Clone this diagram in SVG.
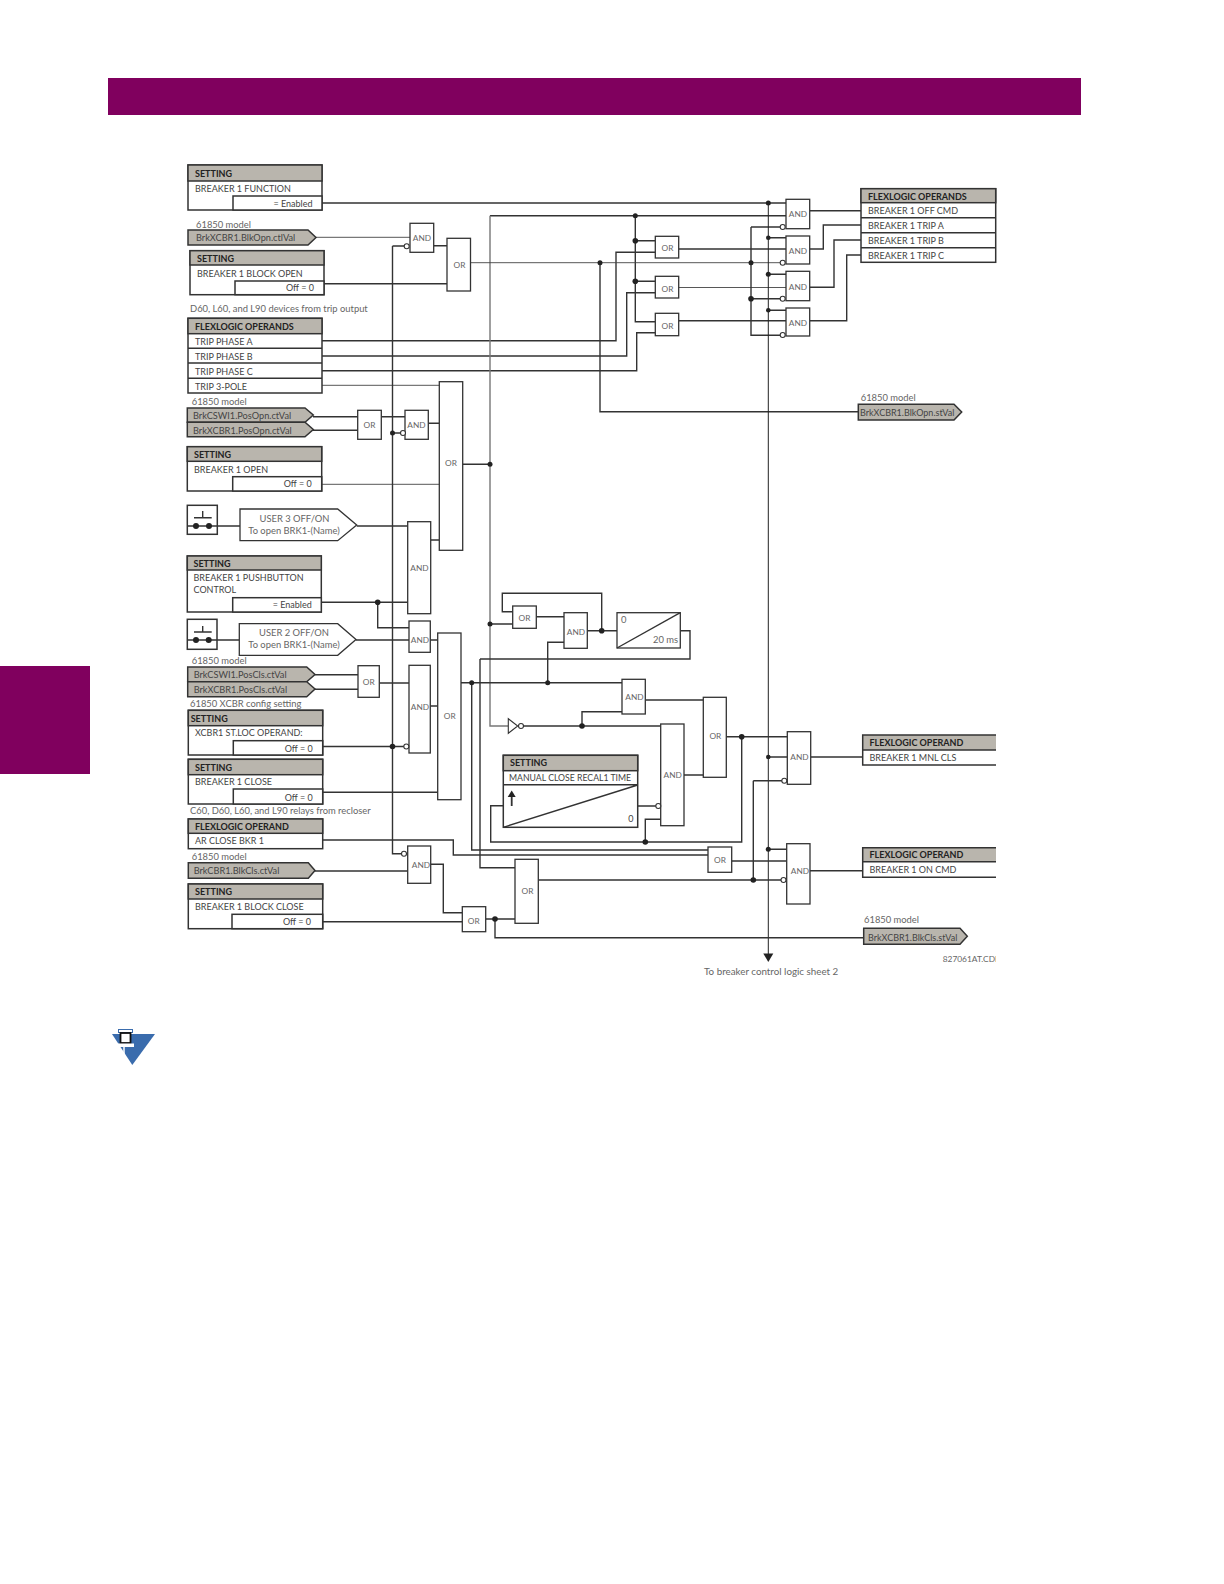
<svg xmlns="http://www.w3.org/2000/svg" width="1224" height="1584" viewBox="0 0 1224 1584">
<style>
text{font-family:"Lato","Open Sans","Liberation Sans",sans-serif;font-size:9px;fill:#444}
.h{font-weight:700;fill:#222;font-size:9px}
.g{font-size:8.300px;fill:#666;text-anchor:middle}
.n{fill:#666;font-size:9.400px}
.r{text-anchor:end}
.c{text-anchor:middle}
.b{fill:#fff;stroke:#333;stroke-width:1.500}
.bg{fill:#fff;stroke:#333;stroke-width:1.300}
.hd{fill:#b9b5ad;stroke:#333;stroke-width:1.500}
.w{fill:none;stroke:#333;stroke-width:1.400}
.t{fill:none;stroke:#444;stroke-width:.9}
.y{fill:none;stroke:#777;stroke-width:1.400}
.d{fill:#222;stroke:none}
.o{fill:#fff;stroke:#333;stroke-width:1.100}
</style>
<defs><clipPath id="cdr"><rect x="930" y="940" width="66" height="30"/></clipPath></defs>
<rect id="title-band" x="108" y="78" width="973" height="37" fill="#80005e"/>
<rect id="side-tab" x="0" y="666" width="90" height="108" fill="#80005e"/>
<g id="connectors">
<path class="w" d="M322 203H786M490 215.700H786M635.300 215.700V321.700H655M635.300 240.700H655M635.300 281.300H655M322 340.700H616V252.300H655M322 356H626.700V292.700H655M322 370.700H636.700V332.700H655"/>
<path class="y" d="M490 215.700V726H508"/>
<path class="t" d="M316 237.300H410M470 262.700H780M322 385.300H439M322 484.300H439M678.700 287.500H786"/>
<path class="w" d="M392.500 246V853.700H402M392.500 246H404M392.500 433H401M392.500 746.500H404M322 746.500H392.500"/>
<path class="w" d="M434 245.700H447M324 283.700H447M600 262.700V411.700H858M678.700 249H786M678.700 320.700H786"/>
<path class="w" d="M751 227V335.300H780M751 227H780"/>
<path class="t" style="stroke:#222;stroke-width:1" d="M768.300 203V955"/>
<path class="w" d="M751 298.700H780M768.300 237.700H786M768.300 274.300H786M768.300 310.300H786"/>
<path class="w" d="M809.700 210.700H861M809.700 249H823.300V225H861M809.700 287.300H834V240H861M809.700 320.700H846.700V255H861"/>
<path class="w" d="M313 416.700H358M313 430.300H358M381.300 416.700H405M428.300 423.300H439.300M462.700 464.300H490"/>
<path class="w" d="M187.300 526H240M356.700 526H407.700M430.700 540H439.300M321.300 602.300H407.700M377.700 602.300V627.700H409M187.300 640H239.300M356 640H409M430.300 640H437.700"/>
<path class="w" d="M315 674.700H358M315 689.300H358M379.300 683H409M430.300 706H437.700M461 682.700H622M322 792.300H437.700"/>
<path class="w" d="M471.700 682.700V850H708M480 659V867.700H515M480 659H690V630.700H680.300M322 840H453.300V855H708"/>
<path class="w" d="M536.300 616.700H564M490 624H512.700M512.700 611.700H502.300V593.300H601.700V630.700M587.300 630.700H617M547.700 682.700V642.300H564"/>
<path class="w" d="M582 726V711.700H622M521 726H660.700M645.300 700H703.300M684 775H703.300M726.300 736.700H787.300M741.700 736.700V842H490.700V805.700H503.300M645.300 842V819.300H660.700M637.700 806H656"/>
<path class="w" d="M768.300 757H787.300M753.300 780.700H782M753.300 780.700V880M810.700 757H862.700M731.700 861H786.700M538.300 880H781M768.300 849.300H786.700M810 870.700H862.700"/>
<path class="w" d="M315 871H407.700M430.700 864.300H443.300V912.700H462.300M322 921.800H462.300M485.700 919H515M495 919V937.700H864"/>
<polygon class="d" points="763.300,953.500 773.300,953.500 768.300,962"/>
<g>
<circle class="d" cx="768.300" cy="203" r="2.500"/><circle class="d" cx="635.300" cy="215.700" r="2.500"/><circle class="d" cx="635.300" cy="240.700" r="2.800"/><circle class="d" cx="635.300" cy="281.300" r="2.800"/><circle class="d" cx="600" cy="262.700" r="2.500"/><circle class="d" cx="751" cy="262.700" r="2.500"/><circle class="d" cx="751" cy="298.700" r="2.800"/><circle class="d" cx="768.300" cy="237.700" r="2.300"/><circle class="d" cx="768.300" cy="274.300" r="2.500"/><circle class="d" cx="768.300" cy="310.300" r="2.300"/>
<circle class="d" cx="392.500" cy="433" r="2.500"/><circle class="d" cx="490" cy="464.300" r="2.500"/><circle class="d" cx="377.700" cy="602.300" r="2.800"/><circle class="d" cx="490" cy="624" r="2.500"/><circle class="d" cx="471.700" cy="682.700" r="2.500"/><circle class="d" cx="392.500" cy="746.500" r="2.800"/><circle class="d" cx="547.700" cy="682.700" r="2.500"/><circle class="d" cx="601.700" cy="630.700" r="2.800"/><circle class="d" cx="582" cy="726" r="2.800"/><circle class="d" cx="741.700" cy="736.700" r="2.800"/><circle class="d" cx="645.300" cy="842" r="2.800"/><circle class="d" cx="768.300" cy="757" r="2.300"/><circle class="d" cx="768.300" cy="849.300" r="2.500"/><circle class="d" cx="753.300" cy="880" r="2.800"/><circle class="d" cx="495" cy="919" r="2.800"/>
</g>
</g>
<g id="set-function"><rect class="b" x="188" y="165" width="134" height="45"/><rect class="hd" x="188" y="165" width="134" height="16"/><rect class="b" x="233" y="196" width="89" height="14"/><text class="h" x="195" y="177">SETTING</text><text x="195" y="192">BREAKER 1 FUNCTION</text><text class="r" x="312.500" y="207">= Enabled</text></g>
<g id="tag-blkopn"><text class="n" x="196" y="228">61850 model</text><polygon class="hd" points="188,230 308,230 316,237.500 308,245 188,245"/><text x="196" y="241" style="font-size:9.200px">BrkXCBR1.BlkOpn.ctlVal</text></g>
<g id="set-blockopen"><rect class="b" x="190" y="250.700" width="134" height="44"/><rect class="hd" x="190" y="250.700" width="134" height="14.300"/><rect class="b" x="235" y="281" width="89" height="13.700"/><text class="h" x="197" y="262">SETTING</text><text x="197" y="277">BREAKER 1 BLOCK OPEN</text><text class="r" x="314" y="291">Off = 0</text></g>
<text class="n" x="190" y="312">D60, L60, and L90 devices from trip output</text>
<g id="ops-trip"><rect class="b" x="188" y="318.300" width="134" height="74.700"/><rect class="hd" x="188" y="318.300" width="134" height="15.400"/><path class="w" d="M188 348.300H322M188 363H322M188 378.300H322"/><text class="h" x="195" y="330">FLEXLOGIC OPERANDS</text><text x="195" y="344.500">TRIP PHASE A</text><text x="195" y="359.500">TRIP PHASE B</text><text x="195" y="374.500">TRIP PHASE C</text><text x="195" y="389.500">TRIP 3-POLE</text></g>
<text class="n" x="191.700" y="405">61850 model</text>
<g id="tag-posopn"><polygon class="hd" points="187.300,408 305,408 313.300,415 305,422.300 187.300,422.300"/><polygon class="hd" points="187.300,422.300 305,422.300 313.300,429.500 305,436.700 187.300,436.700"/><text x="193" y="419" style="font-size:9.200px">BrkCSWI1.PosOpn.ctVal</text><text x="193" y="434" style="font-size:9.200px">BrkXCBR1.PosOpn.ctVal</text></g>
<g id="set-open"><rect class="b" x="187.300" y="446.700" width="134.400" height="44.300"/><rect class="hd" x="187.300" y="446.700" width="134.400" height="14.600"/><rect class="b" x="232.700" y="476.700" width="89" height="14.300"/><text class="h" x="194" y="457.700">SETTING</text><text x="194" y="472.700">BREAKER 1 OPEN</text><text class="r" x="311.700" y="487">Off = 0</text></g>
<g id="pb-user3"><rect class="b" x="187.300" y="505.300" width="30" height="29"/><path class="w" d="M202.700 511V517.700M194 517.700H211.700M187.300 526H217.300"/><circle class="d" cx="196" cy="526" r="3"/><circle class="d" cx="209" cy="526" r="3"/></g>
<g id="tag-user3"><polygon class="bg" points="240,509 337.700,509 356.700,525 337.700,540.700 240,540.700"/><text class="c n" x="294.500" y="521.700">USER 3 OFF/ON</text><text class="c n" x="294" y="533.500">To open BRK1-(Name)</text></g>
<g id="set-pushbutton"><rect class="b" x="187.300" y="556" width="134" height="56"/><rect class="hd" x="187.300" y="556" width="134" height="14"/><rect class="b" x="232.700" y="597.700" width="88.600" height="14.300"/><text class="h" x="193.500" y="566.500">SETTING</text><text x="193.500" y="581">BREAKER 1 PUSHBUTTON</text><text x="193.500" y="593.300">CONTROL</text><text class="r" x="311.700" y="608">= Enabled</text></g>
<g id="pb-user2"><rect class="b" x="187.300" y="619.300" width="29.700" height="30"/><path class="w" d="M202.700 626V632M194 632H211.700M187.300 640H217"/><circle class="d" cx="196" cy="640" r="3"/><circle class="d" cx="208.700" cy="640" r="3"/></g>
<g id="tag-user2"><polygon class="bg" points="239.300,623.700 337.700,623.700 356,639.500 337.700,655.300 239.300,655.300"/><text class="c n" x="294" y="635.700">USER 2 OFF/ON</text><text class="c n" x="294" y="647.700">To open BRK1-(Name)</text></g>
<text class="n" x="191.700" y="664.300">61850 model</text>
<g id="tag-poscls"><polygon class="hd" points="187.700,667 306.700,667 315,674.500 306.700,681.700 187.700,681.700"/><polygon class="hd" points="187.700,681.700 306.700,681.700 315,689 306.700,696.700 187.700,696.700"/><text x="193.700" y="678.300" style="font-size:9.200px">BrkCSWI1.PosCls.ctVal</text><text x="193.700" y="692.700" style="font-size:9.200px">BrkXCBR1.PosCls.ctVal</text></g>
<text class="n" x="190" y="707.300">61850 XCBR config setting</text>
<g id="set-stloc"><rect class="b" x="188.300" y="710.300" width="134.400" height="44.700"/><rect class="hd" x="188.300" y="710.300" width="134.400" height="15.400"/><rect class="b" x="233.300" y="740.700" width="89.400" height="14.300"/><text class="h" x="190.700" y="721.700">SETTING</text><text x="195" y="736">XCBR1 ST.LOC OPERAND:</text><text class="r" x="312.700" y="751.500">Off = 0</text></g>
<g id="set-close"><rect class="b" x="188.300" y="759.300" width="134.400" height="44.700"/><rect class="hd" x="188.300" y="759.300" width="134.400" height="15.400"/><rect class="b" x="233.300" y="789" width="89.400" height="15"/><text class="h" x="195" y="770.700">SETTING</text><text x="195" y="785">BREAKER 1 CLOSE</text><text class="r" x="312.700" y="800.500">Off = 0</text></g>
<text class="n" x="190" y="814.300">C60, D60, L60, and L90 relays from recloser</text>
<g id="op-arclose"><rect class="b" x="188.300" y="819" width="134.400" height="29.700"/><rect class="hd" x="188.300" y="819" width="134.400" height="14.300"/><text class="h" x="195" y="829.700">FLEXLOGIC OPERAND</text><text x="195" y="844.300">AR CLOSE BKR 1</text></g>
<g id="tag-blkcls"><text class="n" x="191.700" y="860">61850 model</text><polygon class="hd" points="188.300,862.700 308.300,862.700 315,870.500 308.300,878.300 188.300,878.300"/><text x="193.700" y="874.300" style="font-size:9.200px">BrkCBR1.BlkCls.ctVal</text></g>
<g id="set-blockclose"><rect class="b" x="188.300" y="884" width="134.400" height="44.700"/><rect class="hd" x="188.300" y="884" width="134.400" height="15"/><rect class="b" x="232" y="914.300" width="90.700" height="14.400"/><text class="h" x="195" y="895">SETTING</text><text x="195" y="910">BREAKER 1 BLOCK CLOSE</text><text class="r" x="311" y="925">Off = 0</text></g>
<g id="and-1"><rect class="bg" x="410" y="223.300" width="23.700" height="29"/><text class="g" x="422" y="241">AND</text><circle class="o" cx="406.700" cy="246.300" r="2.500"/></g>
<g id="or-1"><rect class="bg" x="447" y="238.300" width="23.500" height="52.700"/><text class="g" x="459.500" y="268">OR</text></g>
<g id="or-2"><rect class="bg" x="357.700" y="410.300" width="23.600" height="29"/><text class="g" x="369.500" y="428">OR</text></g>
<g id="and-2"><rect class="bg" x="405" y="410.300" width="23.300" height="29"/><text class="g" x="416.500" y="428">AND</text><circle class="o" cx="403" cy="433" r="2.500"/></g>
<g id="or-3"><rect class="bg" x="439.300" y="381.700" width="23.400" height="168.600"/><text class="g" x="451" y="465.500">OR</text></g>
<g id="and-3"><rect class="bg" x="407.700" y="521.700" width="23" height="92"/><text class="g" x="419.500" y="571">AND</text></g>
<g id="and-4"><rect class="bg" x="409" y="621" width="21.300" height="31.300"/><text class="g" x="420" y="642.500">AND</text></g>
<g id="or-4"><rect class="bg" x="358" y="665.700" width="21.300" height="31.600"/><text class="g" x="368.700" y="685">OR</text></g>
<g id="and-5"><rect class="bg" x="409" y="665.300" width="21.300" height="87.700"/><text class="g" x="420" y="710">AND</text><circle class="o" cx="406.300" cy="746.500" r="2.500"/></g>
<g id="or-5"><rect class="bg" x="437.700" y="633" width="23.300" height="166.700"/><text class="g" x="449.700" y="719">OR</text></g>
<g id="and-6"><rect class="bg" x="407.700" y="846" width="23" height="37.300"/><text class="g" x="421" y="867.500">AND</text><circle class="o" cx="404" cy="853.700" r="2.500"/></g>
<g id="or-6"><rect class="bg" x="462.300" y="906.700" width="23.400" height="25"/><text class="g" x="473.700" y="923.500">OR</text></g>
<g id="or-7"><rect class="bg" x="515" y="859.300" width="23.300" height="64"/><text class="g" x="527.500" y="894">OR</text></g>
<g id="or-a"><rect class="bg" x="655.300" y="236.300" width="23.400" height="21.700"/><text class="g" x="667.500" y="251">OR</text></g>
<g id="or-b"><rect class="bg" x="655.300" y="276.300" width="23.400" height="21.700"/><text class="g" x="667.500" y="291.500">OR</text></g>
<g id="or-c"><rect class="bg" x="655.300" y="313.300" width="23.400" height="22.400"/><text class="g" x="667.500" y="329">OR</text></g>
<g id="and-a"><rect class="bg" x="786" y="199.300" width="23.700" height="29.400"/><text class="g" x="798" y="217">AND</text><circle class="o" cx="782.700" cy="227" r="2.500"/></g>
<g id="and-b"><rect class="bg" x="786" y="236" width="23.700" height="28"/><text class="g" x="798" y="253.500">AND</text><circle class="o" cx="782.700" cy="262.700" r="2.500"/></g>
<g id="and-c"><rect class="bg" x="786" y="271.300" width="23.700" height="29.400"/><text class="g" x="798" y="289.500">AND</text><circle class="o" cx="782.700" cy="298.700" r="2.500"/></g>
<g id="and-d"><rect class="bg" x="786" y="308" width="23.700" height="28"/><text class="g" x="798" y="325.500">AND</text><circle class="o" cx="782.700" cy="335" r="2.500"/></g>
<g id="ops-breaker"><rect class="b" x="861" y="188.700" width="134.700" height="73.600"/><rect class="hd" x="861" y="188.700" width="134.700" height="14"/><path class="w" d="M861 217.700H995.700M861 232.700H995.700M861 247.700H995.700"/><text class="h" x="868" y="199.500">FLEXLOGIC OPERANDS</text><text x="868" y="214">BREAKER 1 OFF CMD</text><text x="868" y="229">BREAKER 1 TRIP A</text><text x="868" y="244">BREAKER 1 TRIP B</text><text x="868" y="259">BREAKER 1 TRIP C</text></g>
<g id="tag-blkopn-out"><text class="n" x="860.700" y="401">61850 model</text><polygon class="hd" points="858.300,404.300 954,404.300 961.700,412 954,420 858.300,420"/><text x="860" y="416">BrkXCBR1.BlkOpn.stVal</text></g>
<g id="or-top"><rect class="bg" x="512.700" y="606" width="23.600" height="22.300"/><text class="g" x="524.500" y="620.500">OR</text></g>
<g id="and-top"><rect class="bg" x="564" y="612.700" width="23.300" height="35.600"/><text class="g" x="576" y="634.500">AND</text></g>
<g id="timer"><rect class="bg" x="617" y="612.700" width="63.300" height="35.300"/><path class="w" d="M617 648L680.300 612.700"/><text class="n" x="621" y="623.300">0</text><text class="r n" x="678" y="643.300">20 ms</text></g>
<g id="and-mid"><rect class="bg" x="622" y="679.300" width="23.300" height="34.700"/><text class="g" x="634.500" y="700">AND</text></g>
<g id="or-mid"><rect class="bg" x="703.300" y="697.300" width="23" height="80"/><text class="g" x="715.300" y="739">OR</text></g>
<g id="not"><polygon class="o" points="508.300,718.700 508.300,733.300 517.700,726"/><circle class="o" cx="521" cy="726" r="2.500"/></g>
<g id="and-low"><rect class="bg" x="660.700" y="724" width="23.300" height="101.700"/><text class="g" x="672.700" y="778">AND</text><circle class="o" cx="658.300" cy="806" r="2.500"/></g>
<g id="set-recal"><rect class="b" x="503.300" y="755.300" width="134.400" height="72"/><rect class="hd" x="503.300" y="755.300" width="134.400" height="15.400"/><path class="w" d="M503.300 784.700H637.700M503.300 827.300L637.700 785"/><path class="w" style="stroke-width:1.800" d="M511.700 806V796"/><polygon class="d" points="507.700,797 515.700,797 511.700,790.500"/><text class="h" x="510" y="765.700">SETTING</text><text x="509" y="781" style="font-size:8.700px">MANUAL CLOSE RECAL1 TIME</text><text class="r" x="633.500" y="822">0</text></g>
<g id="and-mnl"><rect class="bg" x="787.300" y="731.700" width="23.400" height="52.600"/><text class="g" x="799.500" y="760">AND</text><circle class="o" cx="784.300" cy="780.700" r="2.500"/></g>
<g id="or-on"><rect class="bg" x="708" y="847" width="23.700" height="25.300"/><text class="g" x="720" y="862.500">OR</text></g>
<g id="and-on"><rect class="bg" x="786.700" y="843.700" width="23.300" height="60.300"/><text class="g" x="800" y="873.500">AND</text><circle class="o" cx="783.500" cy="880" r="2.500"/></g>
<g id="op-mnl"><rect x="862.700" y="735" width="133.300" height="30" fill="#fff"/><rect x="862.700" y="735" width="133.300" height="15" fill="#b9b5ad"/><path class="b" style="fill:none" d="M996 735H862.700V765H996M862.700 750H996"/><text class="h" x="869.500" y="745.700">FLEXLOGIC OPERAND</text><text x="869.500" y="760.700">BREAKER 1 MNL CLS</text></g>
<g id="op-on"><rect x="862.700" y="847.700" width="133.300" height="29.600" fill="#fff"/><rect x="862.700" y="847.700" width="133.300" height="14" fill="#b9b5ad"/><path class="b" style="fill:none" d="M996 847.700H862.700V877.300H996M862.700 861.700H996"/><text class="h" x="869.500" y="857.700">FLEXLOGIC OPERAND</text><text x="869.500" y="873.300">BREAKER 1 ON CMD</text></g>
<g id="tag-blkcls-out"><text class="n" x="864" y="923.300">61850 model</text><polygon class="hd" points="863.700,928.300 960,928.300 967.300,936.300 960,944.300 863.700,944.300"/><text x="868" y="940.500">BrkXCBR1.BlkCls.stVal</text></g>
<text class="n" x="704" y="975.300" style="font-size:9.800px">To breaker control logic sheet 2</text>
<text class="n" x="942.700" y="961.700" clip-path="url(#cdr)" style="font-size:8.400px">827061AT.CDR</text>
<g id="note-icon"><polygon points="112,1034 155,1034 132.300,1065" fill="#3a6cad"/><rect x="118.500" y="1029.500" width="14" height="3" fill="#fff" stroke="#3a6cad" stroke-width="1"/><rect x="120.500" y="1033" width="10" height="10" fill="#fff" stroke="#111" stroke-width="1.800"/><rect x="118" y="1043.500" width="16" height="3.500" fill="#fff"/><path d="M124 1047V1060" stroke="#fff" stroke-width="1.500"/></g>
</svg>
